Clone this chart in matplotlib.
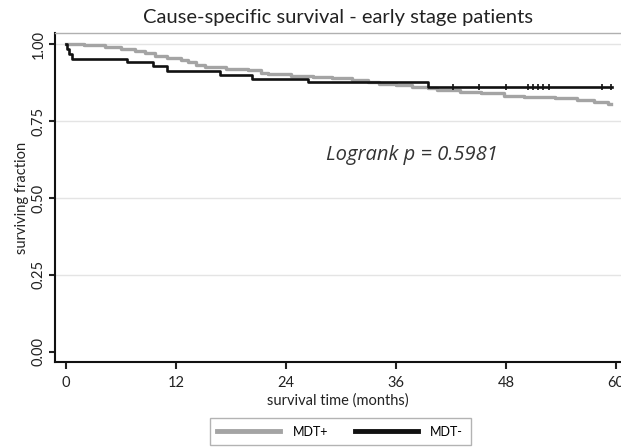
import matplotlib
matplotlib.use("Agg")
import matplotlib.pyplot as plt

# MDT+ (grey) Kaplan-Meier steps: time in months, surviving fraction after step
mdt_pos_time = [0, 2.0, 4.3, 6.0, 7.5, 8.6, 9.7, 11.0, 12.5, 13.3, 14.2, 15.2, 17.5, 19.9,
                21.3, 22.0, 24.5, 27.0, 29.0, 31.2, 33.0, 34.1, 36.0, 37.7, 39.5, 40.5,
                43.0, 45.3, 47.8, 50.0, 53.3, 55.8, 57.6, 59.1, 59.5]
mdt_pos_surv = [1.0, 0.997, 0.991, 0.985, 0.977, 0.970, 0.962, 0.955, 0.948, 0.941, 0.933,
                0.926, 0.921, 0.915, 0.908, 0.902, 0.898, 0.894, 0.889, 0.883, 0.878, 0.872,
                0.867, 0.861, 0.856, 0.850, 0.845, 0.840, 0.832, 0.829, 0.824, 0.818, 0.811,
                0.804, 0.804]

# MDT- (black)
mdt_neg_time = [0, 0.1, 0.35, 0.7, 6.6, 9.5, 11.0, 16.8, 20.3, 26.4, 39.5, 59.6]
mdt_neg_surv = [1.0, 0.985, 0.968, 0.951, 0.941, 0.929, 0.913, 0.899, 0.887, 0.876, 0.861, 0.861]
mdt_neg_censor = [42.2, 45.1, 48.0, 50.4, 50.9, 51.5, 52.0, 52.7, 58.5, 59.5]

x_ticks = [0, 12, 24, 36, 48, 60]
y_ticks = [0.0, 0.25, 0.5, 0.75, 1.0]
y_ticklabels = ["0.00", "0.25", "0.50", "0.75", "1.00"]

plt.rcParams['font.family'] = ['Lato', 'DejaVu Sans']

fig = plt.figure(figsize=(6.21, 4.48), dpi=100)
ax = fig.add_axes([0.0886, 0.192, 0.9114, 0.734])

# grid lines
for yv in y_ticks[1:]:
    ax.axhline(yv, color='#e4e4e4', lw=1.0, zorder=0)

ax.step(mdt_pos_time, mdt_pos_surv, where='post', color='#a4a4a4', lw=2.4, label='MDT+', zorder=2)
ax.step(mdt_neg_time, mdt_neg_surv, where='post', color='#111111', lw=1.9, label='MDT-', zorder=3)
# censor marks on MDT-
ax.plot(mdt_neg_censor, [mdt_neg_surv[-1]] * len(mdt_neg_censor), ls='none', marker='|',
        ms=4, mew=1.2, color='#111111', zorder=4)

ax.set_xlim(-1.2, 60.55)
ax.set_ylim(-0.0335, 1.036)
ax.set_xticks(x_ticks)
ax.set_yticks(y_ticks)
ax.set_yticklabels(y_ticklabels, rotation=90, va='center')
ax.tick_params(axis='both', direction='out', length=4, width=1.5, labelsize=10.5, colors='#222222')
ax.tick_params(axis='x', pad=5, length=5)
ax.tick_params(axis='y', pad=3)

for side in ['left', 'bottom']:
    ax.spines[side].set_linewidth(1.5)
    ax.spines[side].set_color('#111111')
ax.spines['top'].set_color('#b0b0b0')
ax.spines['top'].set_linewidth(1.0)
ax.spines['right'].set_visible(False)

ax.set_xlabel('survival time (months)', fontsize=10.5, labelpad=2.5, color='#222222')
ax.set_ylabel('surviving fraction', fontsize=10.5, labelpad=1.5, color='#222222')

fig.text(0.545, 0.960, 'Cause-specific survival - early stage patients', ha='center', va='center',
         fontsize=14.5, color='#222222')

ax.text(28.4, 0.64, 'Logrank p = 0.5981', fontsize=14.5, style='italic', va='center', ha='left',
        family=['Open Sans', 'DejaVu Sans'], color='#333333')

leg = fig.legend(loc='center', bbox_to_anchor=(0.548, 0.036), ncol=2, fontsize=9,
                 handlelength=5.0, columnspacing=2.2, handletextpad=1.0,
                 frameon=True, fancybox=False, borderpad=0.6)
leg.get_frame().set_edgecolor('#a0a0a0')
leg.get_frame().set_linewidth(1.0)
for line in leg.get_lines():
    line.set_linewidth(3.5)

fig.savefig('out.png', dpi=100)
